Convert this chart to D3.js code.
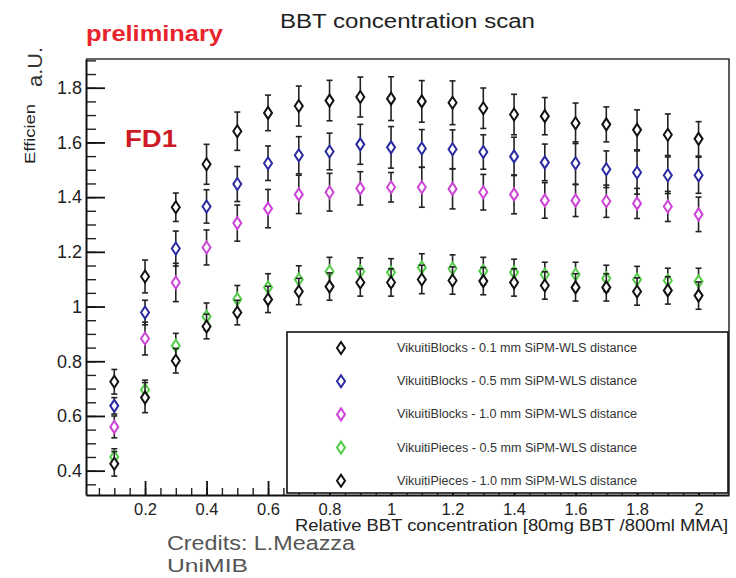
<!DOCTYPE html>
<html>
<head>
<meta charset="utf-8">
<script src="https://cdn.jsdelivr.net/npm/d3@7"></script>
<style>
  html, body { margin: 0; padding: 0; background: #fff; }
  svg { display: block; }
  text { font-family: "Liberation Sans", Arial, sans-serif; }
</style>
</head>
<body>
<svg id="chart" width="736" height="578"></svg>
<script>
// Relative BBT concentration (x) for every measurement
const concentration = [0.1, 0.2, 0.3, 0.4, 0.5, 0.6, 0.7, 0.8, 0.9, 1.0,
                       1.1, 1.2, 1.3, 1.4, 1.5, 1.6, 1.7, 1.8, 1.9, 2.0];

const seriesNames = [
  "VikuitiBlocks - 0.1 mm SiPM-WLS distance",
  "VikuitiBlocks - 0.5 mm SiPM-WLS distance",
  "VikuitiBlocks - 1.0 mm SiPM-WLS distance",
  "VikuitiPieces - 0.5 mm SiPM-WLS distance",
  "VikuitiPieces - 1.0 mm SiPM-WLS distance"
];
const seriesColors = ["#111111", "#2a2aa0", "#cc44d6", "#55cc4a", "#111111"];

// Efficiency values [a.U.]
const blocks01 = [0.725, 1.11, 1.363, 1.52, 1.641, 1.708, 1.733, 1.753, 1.766, 1.760,
                  1.750, 1.745, 1.725, 1.702, 1.696, 1.670, 1.666, 1.646, 1.628, 1.613];
const blocks05 = [0.637, 0.978, 1.212, 1.366, 1.448, 1.524, 1.553, 1.567, 1.593, 1.582,
                  1.578, 1.575, 1.565, 1.549, 1.527, 1.524, 1.502, 1.490, 1.480, 1.480];
const blocks10 = [0.560, 0.883, 1.088, 1.216, 1.305, 1.358, 1.410, 1.418, 1.432, 1.436,
                  1.436, 1.430, 1.418, 1.410, 1.388, 1.388, 1.385, 1.377, 1.366, 1.337];
const pieces05 = [0.450, 0.696, 0.857, 0.963, 1.027, 1.070, 1.099, 1.128, 1.128, 1.125,
                  1.143, 1.139, 1.130, 1.125, 1.117, 1.117, 1.103, 1.099, 1.095, 1.092];
const pieces10 = [0.425, 0.667, 0.802, 0.927, 0.978, 1.026, 1.055, 1.073, 1.088, 1.088,
                  1.099, 1.095, 1.093, 1.088, 1.077, 1.070, 1.070, 1.055, 1.059, 1.040];

// Symmetric uncertainties
const blocks01Err = [0.045, 0.060, 0.052, 0.073, 0.070, 0.065, 0.073, 0.074, 0.073, 0.080,
                     0.076, 0.080, 0.074, 0.074, 0.068, 0.074, 0.064, 0.073, 0.076, 0.063];
const blocks05Err = [0.030, 0.045, 0.064, 0.061, 0.064, 0.063, 0.068, 0.067, 0.073, 0.076,
                     0.069, 0.071, 0.063, 0.070, 0.067, 0.078, 0.067, 0.079, 0.067, 0.066];
const blocks10Err = [0.040, 0.060, 0.070, 0.064, 0.066, 0.070, 0.070, 0.069, 0.061, 0.054,
                     0.073, 0.073, 0.065, 0.071, 0.065, 0.059, 0.059, 0.055, 0.055, 0.063];
const pieces05Err = [0.030, 0.035, 0.045, 0.050, 0.050, 0.050, 0.050, 0.052, 0.050, 0.050,
                     0.050, 0.050, 0.050, 0.048, 0.045, 0.045, 0.048, 0.048, 0.045, 0.048];
const pieces10Err = [0.045, 0.055, 0.045, 0.045, 0.045, 0.048, 0.048, 0.050, 0.050, 0.050,
                     0.052, 0.050, 0.050, 0.050, 0.050, 0.050, 0.050, 0.050, 0.050, 0.050];

// Axis ticks
const xMajorTicks = [0.2, 0.4, 0.6, 0.8, 1.0, 1.2, 1.4, 1.6, 1.8, 2.0];
const yMajorTicks = [0.4, 0.6, 0.8, 1.0, 1.2, 1.4, 1.6, 1.8];

const seriesValues = [blocks01, blocks05, blocks10, pieces05, pieces10];
const seriesErrors = [blocks01Err, blocks05Err, blocks10Err, pieces05Err, pieces10Err];

const svg = d3.select("#chart");

const frame = { left: 86, right: 729, top: 59, bottom: 495 };
const x = d3.scaleLinear().domain([0.008, 2.099]).range([frame.left, frame.right]);
const y = d3.scaleLinear().domain([0.311, 1.905]).range([frame.bottom, frame.top]);

// frame (top and right edges)
svg.append("path")
  .attr("d", `M${frame.left},${frame.top}H${frame.right}V${frame.bottom}`)
  .attr("fill", "none").attr("stroke", "#333").attr("stroke-width", 1.6);

// minor ticks
const xMinor = d3.range(0.05, 2.09, 0.05).map(v => +v.toFixed(2));
const yMinor = d3.range(0.35, 1.91, 0.05).map(v => +v.toFixed(2));

svg.append("g")
  .attr("transform", `translate(0,${frame.bottom})`)
  .call(d3.axisBottom(x).tickValues(xMinor).tickSize(-7).tickSizeOuter(0).tickFormat(""))
  .call(g => g.select(".domain").remove())
  .call(g => g.selectAll("line").attr("stroke", "#222").attr("stroke-width", 1.4));

svg.append("g")
  .attr("transform", `translate(${frame.left},0)`)
  .call(d3.axisLeft(y).tickValues(yMinor).tickSize(-10).tickSizeOuter(0).tickFormat(""))
  .call(g => g.select(".domain").remove())
  .call(g => g.selectAll("line").attr("stroke", "#222").attr("stroke-width", 1.4));

// major ticks + labels
const fmt = v => (Math.abs(v - Math.round(v)) < 1e-9 ? String(Math.round(v)) : String(v));

svg.append("g")
  .attr("transform", `translate(0,${frame.bottom})`)
  .call(d3.axisBottom(x).tickValues(xMajorTicks).tickSize(-14).tickSizeOuter(0)
        .tickPadding(8).tickFormat(fmt))
  .call(g => g.select(".domain").attr("stroke", "#111").attr("stroke-width", 2))
  .call(g => g.selectAll("line").attr("stroke", "#111").attr("stroke-width", 1.8))
  .call(g => g.selectAll("text").attr("font-size", 16.5).attr("fill", "#222")
        .attr("font-family", "Liberation Sans, Arial, sans-serif"));

svg.append("g")
  .attr("transform", `translate(${frame.left},0)`)
  .call(d3.axisLeft(y).tickValues(yMajorTicks).tickSize(-19).tickSizeOuter(0)
        .tickPadding(4).tickFormat(fmt))
  .call(g => g.select(".domain").attr("stroke", "#111").attr("stroke-width", 2))
  .call(g => g.selectAll("line").attr("stroke", "#111").attr("stroke-width", 1.8))
  .call(g => g.selectAll("text").attr("font-size", 18).attr("fill", "#222")
        .attr("font-family", "Liberation Sans, Arial, sans-serif"));

// data: error bars + open diamonds
const diamond = "M0,-6L4,0L0,6L-4,0Z";
seriesValues.forEach((vals, si) => {
  const g = svg.append("g").attr("class", "series");
  const pts = concentration.map((c, i) => ({ c, v: vals[i], e: seriesErrors[si][i] }));
  const bars = g.selectAll("g.err").data(pts).join("g").attr("class", "err");
  bars.append("line")
    .attr("x1", d => x(d.c)).attr("x2", d => x(d.c))
    .attr("y1", d => y(d.v - d.e)).attr("y2", d => y(d.v + d.e))
    .attr("stroke", "#222").attr("stroke-width", 1.6);
  [-1, 1].forEach(s => {
    bars.append("line")
      .attr("x1", d => x(d.c) - 3).attr("x2", d => x(d.c) + 3)
      .attr("y1", d => y(d.v + s * d.e)).attr("y2", d => y(d.v + s * d.e))
      .attr("stroke", "#222").attr("stroke-width", 1.6);
  });
  g.selectAll("path.mk").data(pts).join("path").attr("class", "mk")
    .attr("d", diamond)
    .attr("transform", d => `translate(${x(d.c)},${y(d.v)})`)
    .attr("fill", "#fff").attr("stroke", seriesColors[si]).attr("stroke-width", 2);
});

// legend
const legend = svg.append("g");
legend.append("rect")
  .attr("x", 287).attr("y", 332).attr("width", 441).attr("height", 161)
  .attr("fill", "#fff").attr("stroke", "#111").attr("stroke-width", 1.6);
seriesNames.forEach((name, i) => {
  const ly = 348 + i * 33.2;
  legend.append("path").attr("d", diamond)
    .attr("transform", `translate(341,${ly})`)
    .attr("fill", "#fff").attr("stroke", seriesColors[i]).attr("stroke-width", 2);
  legend.append("text").attr("x", 397).attr("y", ly + 4)
    .attr("font-size", 12).attr("fill", "#333")
    .attr("textLength", 240).attr("lengthAdjust", "spacingAndGlyphs")
    .text(name);
});

// title and axis titles
svg.append("text").attr("x", 280).attr("y", 28)
  .attr("font-size", 20).attr("fill", "#222")
  .attr("textLength", 255).attr("lengthAdjust", "spacingAndGlyphs")
  .text("BBT concentration scan");

svg.append("text").attr("x", 295).attr("y", 531)
  .attr("font-size", 17).attr("fill", "#222")
  .attr("textLength", 433).attr("lengthAdjust", "spacingAndGlyphs")
  .text("Relative BBT concentration [80mg BBT /800ml MMA]");

svg.append("text")
  .attr("transform", "translate(35,164) rotate(-90)")
  .attr("font-size", 15).attr("fill", "#222")
  .attr("textLength", 60).attr("lengthAdjust", "spacingAndGlyphs")
  .text("Efficien");

svg.append("text")
  .attr("transform", "translate(42,87) rotate(-90)")
  .attr("font-size", 20).attr("fill", "#333")
  .attr("textLength", 40).attr("lengthAdjust", "spacingAndGlyphs")
  .text("a.U.");

// annotations
svg.append("text").attr("x", 86).attr("y", 41)
  .attr("font-size", 22).attr("font-weight", "bold").attr("fill", "#e8232b")
  .attr("textLength", 137).attr("lengthAdjust", "spacingAndGlyphs")
  .text("preliminary");

svg.append("text").attr("x", 125).attr("y", 147)
  .attr("font-size", 24).attr("font-weight", "bold").attr("fill", "#cc1b26")
  .attr("textLength", 52).attr("lengthAdjust", "spacingAndGlyphs")
  .text("FD1");

svg.append("text").attr("x", 167).attr("y", 550)
  .attr("font-family", "Lato, 'Open Sans', sans-serif")
  .attr("font-size", 20).attr("fill", "#555")
  .attr("textLength", 188).attr("lengthAdjust", "spacingAndGlyphs")
  .text("Credits: L.Meazza");

svg.append("text").attr("x", 167).attr("y", 572)
  .attr("font-family", "Lato, 'Open Sans', sans-serif")
  .attr("font-size", 19).attr("fill", "#555")
  .attr("textLength", 81).attr("lengthAdjust", "spacingAndGlyphs")
  .text("UniMIB");
</script>
</body>
</html>
